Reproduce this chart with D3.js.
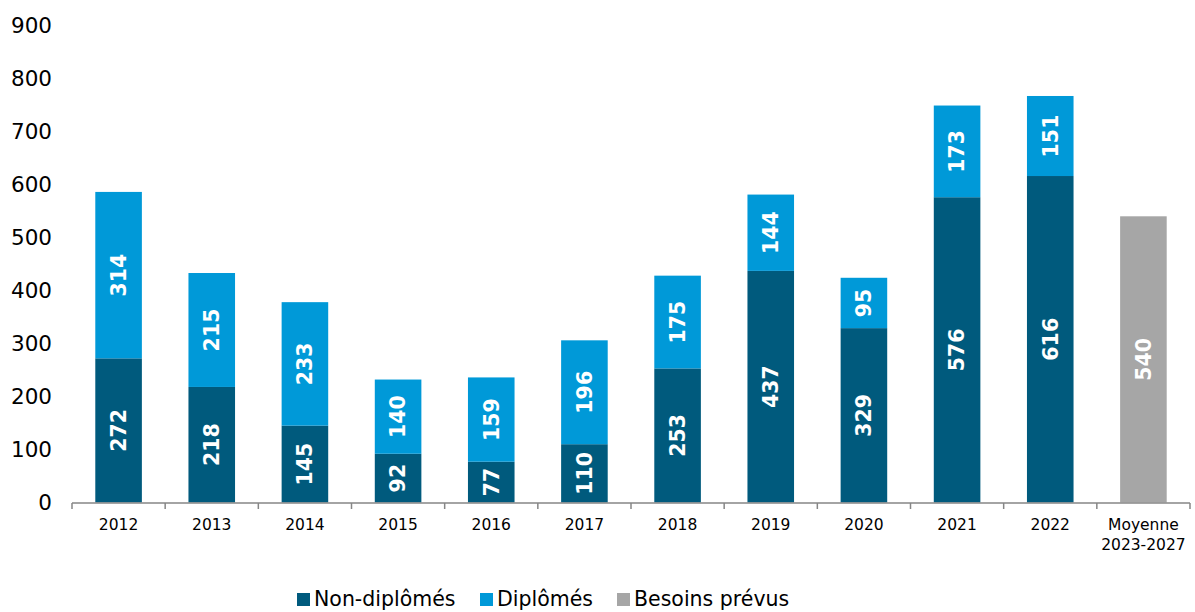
<!DOCTYPE html>
<html>
<head>
<meta charset="utf-8">
<script src="https://cdn.jsdelivr.net/npm/d3@7"></script>
<style>
  body { margin: 0; background: #fff; }
  svg { display: block; font-family: Verdana, "DejaVu Sans", sans-serif; }
</style>
</head>
<body>
<div id="chart"></div>
<script>
// data ------------------------------------------------------------
const categories = ['2012', '2013', '2014', '2015', '2016', '2017', '2018', '2019', '2020', '2021', '2022', 'Moyenne\n2023-2027'];
const nonDiplomes = [272, 218, 145, 92, 77, 110, 253, 437, 329, 576, 616, null];
const diplomes = [314, 215, 233, 140, 159, 196, 175, 144, 95, 173, 151, null];
const besoins = [null, null, null, null, null, null, null, null, null, null, null, 540];
const yTicks = [0, 100, 200, 300, 400, 500, 600, 700, 800, 900];
const legendItems = ['Non-diplômés', 'Diplômés', 'Besoins prévus'];

const COLORS = ['#005A7D', '#0099D8', '#A6A6A6'];
const W = 1195, H = 612;
const m = { left: 72, right: 5, top: 25.5, bottom: 109.5 };

const svg = d3.select('#chart').append('svg')
    .attr('width', W)
    .attr('height', H);

const x = d3.scaleBand()
    .domain(categories)
    .range([m.left, W - m.right])
    .paddingInner(0.5)
    .paddingOuter(0.25);

const y = d3.scaleLinear()
    .domain([0, 900])
    .range([H - m.bottom, m.top]);

// y tick labels (no axis line)
svg.append('g')
  .selectAll('text')
  .data(yTicks)
  .join('text')
    .attr('x', 52)
    .attr('y', d => y(d))
    .attr('dy', '0.36em')
    .attr('text-anchor', 'end')
    .attr('font-size', 21.5)
    .attr('fill', '#000')
    .text(d => d);

// stacked segments
const segs = [];
categories.forEach((c, i) => {
  if (nonDiplomes[i] != null) {
    segs.push({ c, y0: 0, y1: nonDiplomes[i], v: nonDiplomes[i], k: 0 });
    segs.push({ c, y0: nonDiplomes[i], y1: nonDiplomes[i] + diplomes[i], v: diplomes[i], k: 1 });
  }
  if (besoins[i] != null) {
    segs.push({ c, y0: 0, y1: besoins[i], v: besoins[i], k: 2 });
  }
});

const bars = svg.append('g');
bars.selectAll('rect')
  .data(segs)
  .join('rect')
    .attr('x', d => x(d.c))
    .attr('width', x.bandwidth())
    .attr('y', d => y(d.y1))
    .attr('height', d => y(d.y0) - y(d.y1))
    .attr('fill', d => COLORS[d.k]);

bars.selectAll('text')
  .data(segs)
  .join('text')
    .attr('transform', d => {
      const cx = x(d.c) + x.bandwidth() / 2;
      const cy = (y(d.y0) + y(d.y1)) / 2;
      return `translate(${cx},${cy}) rotate(-90)`;
    })
    .attr('text-anchor', 'middle')
    .attr('dy', '0.36em')
    .attr('font-size', 20.5)
    .attr('font-weight', 'bold')
    .attr('fill', '#fff')
    .text(d => d.v);

// x axis
const xAxis = svg.append('g')
    .attr('transform', `translate(0,${y(0) + 0.5})`);

xAxis.append('line')
    .attr('x1', m.left)
    .attr('x2', W - m.right)
    .attr('stroke', '#868686')
    .attr('stroke-width', 1.5);

const step = x.step();
const edges = d3.range(categories.length + 1).map(i => m.left + i * step);
xAxis.selectAll('line.tick')
  .data(edges)
  .join('line')
    .attr('class', 'tick')
    .attr('x1', d => d)
    .attr('x2', d => d)
    .attr('y1', 0)
    .attr('y2', 6)
    .attr('stroke', '#868686')
    .attr('stroke-width', 1.5);

xAxis.selectAll('text')
  .data(categories)
  .join('text')
    .attr('x', d => x(d) + x.bandwidth() / 2)
    .attr('y', 21)
    .attr('text-anchor', 'middle')
    .attr('font-size', 15.5)
    .attr('fill', '#000')
    .each(function(d) {
      d.split('\n').forEach((line, i) => {
        d3.select(this).append('tspan')
          .attr('x', x(d) + x.bandwidth() / 2)
          .attr('dy', i === 0 ? '0.36em' : 20)
          .text(line);
      });
    });

// legend
const legendX = [297, 480, 617];
const legend = svg.append('g')
    .attr('transform', 'translate(0,599)');

const li = legend.selectAll('g')
  .data(legendItems)
  .join('g')
    .attr('transform', (d, i) => `translate(${legendX[i]},0)`);

li.append('rect')
    .attr('x', 0)
    .attr('y', -6)
    .attr('width', 13)
    .attr('height', 13)
    .attr('fill', (d, i) => COLORS[i]);

li.append('text')
    .attr('x', 17)
    .attr('dy', '0.36em')
    .attr('font-size', 20.5)
    .attr('fill', '#000')
    .text(d => d);
</script>
</body>
</html>
